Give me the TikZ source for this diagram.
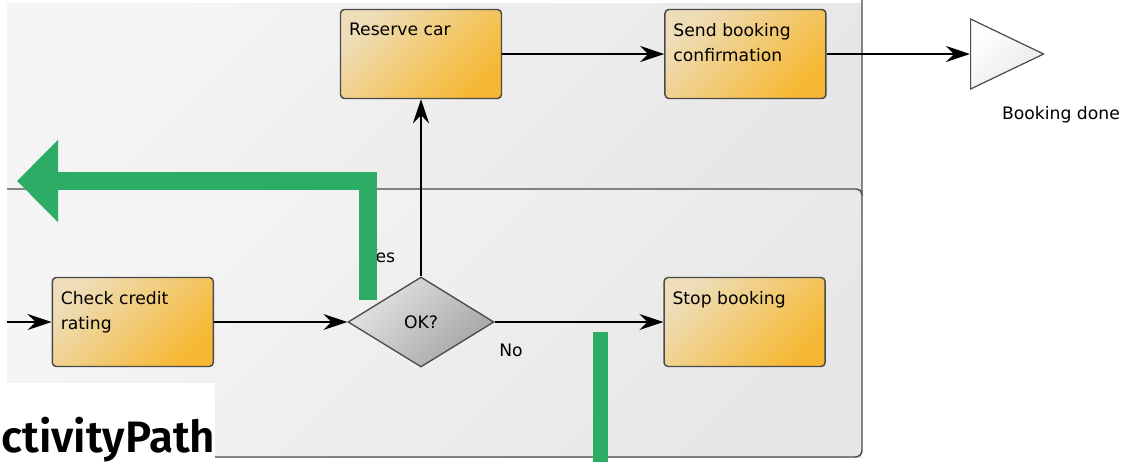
\documentclass[tikz,border=0pt]{standalone}
\usepackage{fontspec}
\setmainfont{DejaVu Sans}
\newfontfamily\titlefont{Fira Sans}[UprightFont={* SemiBold}]
\usetikzlibrary{arrows.meta,positioning,shapes.geometric}
\definecolor{laneline}{HTML}{4A4A4A}
\definecolor{lanelight}{HTML}{F5F5F5}
\definecolor{lanedark}{HTML}{E7E7E7}
\definecolor{tasklight}{HTML}{EEDDB8}
\definecolor{taskdark}{HTML}{F6B833}
\definecolor{gatelight}{HTML}{E4E4E4}
\definecolor{gatedark}{HTML}{A4A4A4}
\definecolor{pathgreen}{HTML}{2DAC66}
\newcommand{\tasktext}[1]{\parbox[c][46pt][t]{108pt}{\raggedright #1}}

\begin{document}
\begin{tikzpicture}[x=0.75pt,y=-0.75pt, every node/.style={font=\fontsize{12.9}{18.75}\selectfont},
 task/.style={draw=laneline,line width=1.1pt,rounded corners=3pt,top color=tasklight,bottom color=taskdark,shading angle=45,minimum width=120.75pt,minimum height=66.75pt,inner sep=0pt},
 gate/.style={diamond,draw=laneline,line width=1pt,top color=gatelight,bottom color=gatedark,shading angle=45,minimum width=109.5pt,minimum height=67.5pt,inner sep=0pt},
 endevent/.style={isosceles triangle,isosceles triangle stretches,draw=laneline,line width=0.9pt,top color=white,bottom color=gray!18,shading angle=45,minimum width=52.5pt,minimum height=54.75pt,inner sep=0pt},
 lbl/.style={inner sep=0pt},
 flow/.style={-{Stealth[length=18pt,width=12pt,inset=6pt]},line width=1.1pt,draw=black},
 greenpath/.style={draw=pathgreen,line width=13.5pt}]
\useasboundingbox (0,0) rectangle (1128,462);
% lanes
\shade[top color=lanelight,bottom color=lanedark,shading angle=45] (7,3) rectangle (862,189);
\shade[top color=lanelight,bottom color=lanedark,shading angle=45] (7,189) rectangle (862,457);
\draw[laneline,line width=1.1pt,rounded corners=4pt] (7,189) -- (862,189) -- (862,196);
\draw[laneline,line width=1.1pt,rounded corners=5pt] (862,0) -- (862,457) -- (7,457);
% nodes
\node[task] (reserve) at (421,54) {\tasktext{Reserve car}};
\node[task,right=121.5pt of reserve] (send) {\tasktext{Send booking confirmation}};
\node[gate] (ok) at (421,322) {OK?};
\node[task,left=100pt of ok] (check) {\tasktext{Check credit rating}};
\node[task,right=126.5pt of ok] (stop) {\tasktext{Stop booking}};
\node[endevent,anchor=lower side] (done) at (970,54) {};
\node[lbl] (donelbl) at (1061,115) {Booking done};
\coordinate (in) at (7,322);
% flows
\draw[flow] (in)--(check); \draw[flow] (check)--(ok); \draw[flow] (ok)--(stop);
\draw[flow] (ok)--(reserve); \draw[flow] (reserve)--(send); \draw[flow] (send.east)--(done.lower side);
\node[lbl,anchor=west] (yeslbl) at (367,256) {Yes};
\node[lbl] (nolbl) at (511,350) {No};
% overlay
\fill[white] (0,383) rectangle (215,462);
\node[lbl,anchor=base west,font=\titlefont\fontsize{33}{36}\selectfont] (title) at (1,452) {ctivityPath};
\draw[greenpath,-{Triangle[length=30.75pt,width=60pt]}] (368,300) -- (368,181) -- (17,181);
\draw[greenpath,line width=11.25pt] (600,332) -- (600,462);
\end{tikzpicture}
\end{document}
